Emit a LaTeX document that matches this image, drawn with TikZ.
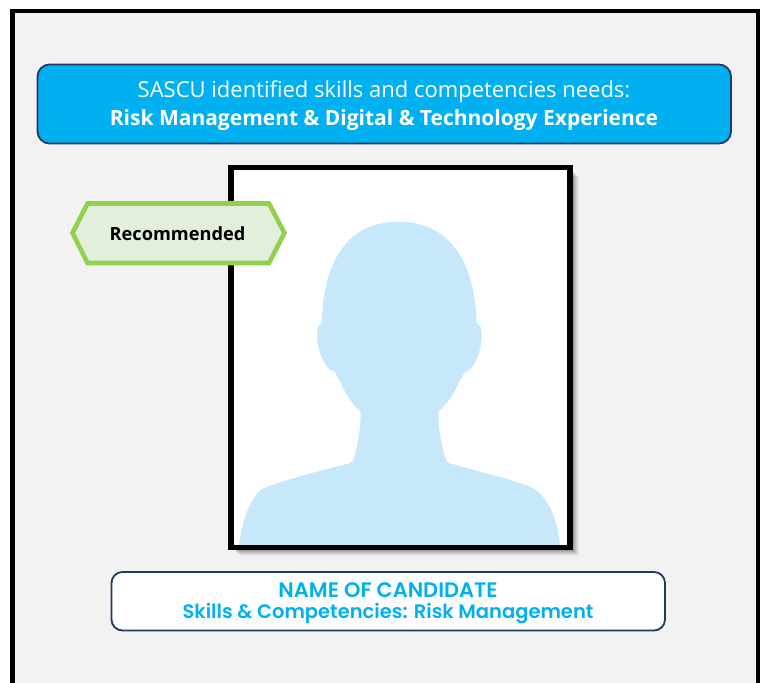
\documentclass[tikz,border=0pt]{standalone}
\usepackage{fontspec}
\setmainfont{Open Sans}
\newfontfamily\namefont{Poppins}[UprightFont=* SemiBold]
\usetikzlibrary{positioning}
\definecolor{panelgray}{HTML}{F2F2F2}
\definecolor{skyblue}{HTML}{00B0F0}
\definecolor{navyedge}{HTML}{1F3864}
\definecolor{headblue}{HTML}{C6E8FA}
\definecolor{leafedge}{HTML}{92D050}
\definecolor{leaffill}{HTML}{E2EFDA}
\tikzset{
  banner/.style={rounded corners=12pt,draw=navyedge,line width=1.8pt,fill=skyblue},
  namebox/.style={rounded corners=11pt,draw=navyedge,line width=1.8pt,fill=white},
  labeltext/.style={inner sep=0pt,align=center}
}
\begin{document}
\begin{tikzpicture}[x=1pt,y=-1pt]
\useasboundingbox (0,0) rectangle (761,683);
\fill[white] (0,0) rectangle (761,683);
% outer frame, open at the bottom edge
\fill[panelgray] (12.5,11) rectangle (758,683);
\draw[line width=4.2pt,miter limit=10] (12.5,690) -- (12.5,11) -- (758,11) -- (758,690);
% banner
\draw[banner] (37.5,64.5) rectangle (731,143.5);
\node[labeltext,text=white,font=\fontsize{22}{22}\selectfont] (line1) at (384,91.5) {SASCU identified skills and competencies needs:};
\node[labeltext,text=white,font=\fontsize{21}{21}\selectfont\bfseries] (line2) at (384,120.5) {Risk Management \& Digital \& Technology Experience};
% photo shadow
\foreach \o/\a in {9/0.04,8/0.05,7/0.06,6/0.07,5/0.09,4/0.1,3/0.12}{
  \fill[black,opacity=\a] (231+\o,168+\o) rectangle (570+\o,547+\o);
}
% photo
\fill[white] (231,167.5) rectangle (570,547.5);
\fill[headblue] (239,545)
  .. controls (243,515) and (253,494) .. (263.3,488.3)
  .. controls (290,478) and (320,471) .. (349.3,463.3)
  .. controls (352,462.5) and (353,461) .. (353.3,460)
  .. controls (358,445) and (360.7,428) .. (360.7,411.7)
  .. controls (349,402) and (343,388) .. (335,371.7)
  .. controls (326,371) and (317.3,352) .. (317.3,335)
  .. controls (317.3,328) and (318,325) .. (321.7,323.3)
  .. controls (323,265) and (345,221.7) .. (398.3,221.7)
  .. controls (452,221.7) and (475,265) .. (476.7,323.3)
  .. controls (480.5,325) and (481.7,328) .. (481.7,335)
  .. controls (481.7,352) and (473,371) .. (465,371.7)
  .. controls (456,388) and (450,402) .. (438.3,411.7)
  .. controls (438.3,428) and (441,445) .. (446,460)
  .. controls (446.5,461.5) and (448,462.8) .. (450,463.3)
  .. controls (480,472) and (510,479) .. (530,486.7)
  .. controls (546,494) and (557,515) .. (560,545)
  -- cycle;
\draw[line width=5.5pt] (231,167.5) rectangle (570,547.5);
% hexagon tag
\draw[draw=leafedge,fill=leaffill,line width=4.6pt,miter limit=10] (72.5,233) -- (87.5,203.5) -- (269,203.5) -- (284.5,233) -- (269,263) -- (87.5,263) -- cycle;
\node[labeltext,text=black,font=\fontsize{18.2}{18.2}\selectfont\bfseries] (rec) at (177.5,234) {Recommended};
% candidate box
\draw[namebox] (111.5,572) rectangle (665,630.5);
\node[labeltext,text=skyblue,font=\namefont\fontsize{21}{21}\selectfont] (cname) at (388,590) {NAME OF CANDIDATE};
\node[labeltext,text=skyblue,font=\namefont\fontsize{19.5}{19.5}\selectfont] (cskill) at (388,613.5) {Skills \& Competencies: Risk Management};
\end{tikzpicture}
\end{document}
